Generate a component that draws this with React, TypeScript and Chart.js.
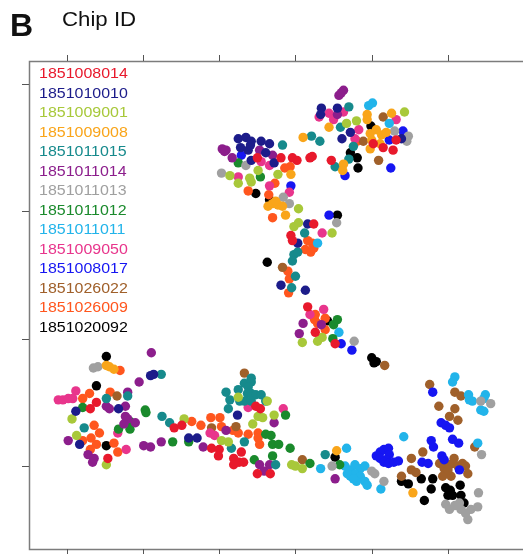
import React, { useEffect, useRef } from "react";
import { Chart, registerables } from "chart.js";

Chart.register(...registerables);

const chipIds = [
  "1851008014", "1851010010", "1851009001", "1851009008", "1851011015",
  "1851011014", "1851011013", "1851011012", "1851011011", "1851009050",
  "1851008017", "1851026022", "1851026009", "1851020092",
];
const chipColors = [
  "#e8192c", "#1c1c8a", "#a8c83a", "#f9a51a", "#168a8c",
  "#8c1e8c", "#a0a0a0", "#1a8a2c", "#22b4ea", "#e8358c",
  "#1616f2", "#a0602a", "#ff561e", "#000000",
];

const xTicks = [-20, -10, 0, 10, 20, 30];
const yTicks = [-10, 0, 10, 20];
const xMin = -24.94, xMax = 39.22;
const yMin = -16.51, yMax = 21.8;

type P = [number, number];

const s1851008014: P[] = [[20.2,15.3],[21.5,15.0],[22.8,14.8],[23.2,15.6],[14.7,14.0],[11.9,14.2],[12.2,14.3],[5.0,14.2],[8.1,14.2],[9.6,14.2],[10.2,14.0],[12.4,9.0],[9.4,8.1],[9.6,7.7],[11.6,2.5],[12.6,0.5],[15.2,-0.4],[-16.9,-5.5],[-16.1,-5.0],[-14.6,-9.4],[-5.9,-7.0],[-4.9,-6.8],[-1.0,-8.6],[0.0,-8.7],[-0.1,-9.2],[1.9,-9.4],[2.6,-9.7],[3.2,-9.7],[1.9,-9.9],[2.9,-8.9],[4.8,-5.3],[5.4,-5.5],[5.0,-10.6],[6.7,-10.6]];
const s1851010010: P[] = [[13.4,18.1],[13.3,17.6],[15.5,18.1],[17.2,16.2],[16.1,15.7],[23.9,15.7],[2.5,15.7],[3.5,15.8],[4.2,15.5],[5.5,15.5],[6.6,15.3],[2.8,15.0],[3.8,14.8],[4.1,15.2],[6.1,14.6],[7.2,13.8],[4.2,14.0],[11.6,9.0],[10.3,7.5],[8.1,4.2],[11.3,3.8],[-9.0,-2.9],[-8.6,-2.8],[-18.8,-5.7],[-13.2,-5.5],[-18.3,-8.3],[-4.0,-7.8],[-2.9,-7.8],[2.4,-6.0]];
const s1851009001: P[] = [[24.3,17.8],[16.7,16.9],[18.0,17.1],[1.4,12.8],[2.5,12.2],[4.0,12.6],[4.2,12.3],[5.1,13.2],[7.7,12.9],[10.4,10.2],[9.8,8.8],[10.4,9.1],[14.8,8.3],[13.5,0.1],[12.9,-0.2],[10.9,-0.3],[-19.3,-6.3],[-18.7,-7.6],[-14.8,-9.9],[-4.6,-6.3],[0.3,-8.0],[1.2,-8.1],[2.5,-4.6],[5.1,-6.1],[5.7,-6.2],[4.4,-6.7],[6.3,-4.9],[7.2,-6.0],[9.5,-9.9],[10.0,-10.0],[10.9,-10.2]];
const s1851009008: P[] = [[19.4,17.6],[19.4,17.2],[22.6,17.7],[14.4,16.6],[19.8,16.1],[20.6,16.4],[21.3,16.0],[21.9,16.2],[20.0,15.6],[21.1,15.3],[19.8,14.9],[16.3,13.7],[16.2,13.2],[11.0,15.8],[9.4,12.9],[7.0,10.6],[7.7,10.5],[6.4,10.4],[7.4,10.8],[8.3,10.4],[8.7,9.7],[-14.8,-2.1],[-14.4,-2.2],[-13.8,-2.4],[15.4,-8.8],[25.4,-12.1]];
const s1851011015: P[] = [[17.0,18.2],[15.9,16.6],[17.6,15.1],[17.0,14.1],[15.2,13.5],[12.1,15.9],[13.2,15.5],[8.3,15.2],[11.2,8.3],[9.8,6.6],[10.3,6.8],[9.6,6.1],[10.0,4.9],[9.5,4.0],[4.2,-3.1],[-7.6,-2.8],[-14.8,-4.7],[-12.0,-4.5],[-17.7,-7.0],[-7.5,-6.1],[-6.5,-6.6],[1.6,-8.6],[3.3,-8.1],[7.4,-9.9],[0.9,-4.2],[1.4,-4.8],[1.2,-5.5],[2.5,-4.0],[3.3,-3.5],[4.2,-3.4],[3.8,-3.8],[2.7,-4.9],[3.7,-4.3],[4.2,-4.3],[4.8,-4.4],[5.5,-4.4],[3.3,-4.9],[4.2,-4.9],[6.1,-4.9],[13.9,-9.1]];
const s1851011014: P[] = [[15.7,19.1],[16.3,19.5],[16.0,19.3],[15.5,17.6],[0.4,14.9],[0.9,14.8],[0.7,14.7],[1.7,14.2],[5.3,14.8],[7.0,14.4],[11.0,1.2],[13.4,1.1],[10.5,0.4],[-8.9,-1.1],[-10.5,-3.4],[-12.0,-4.2],[-14.8,-5.3],[-14.4,-5.5],[-12.3,-5.3],[-12.3,-6.1],[-12.0,-6.3],[-11.0,-6.6],[-12.5,-6.7],[-19.8,-8.0],[-17.2,-9.1],[-16.6,-9.7],[-16.4,-9.4],[-9.9,-8.4],[-9.0,-8.5],[-7.6,-8.1],[-2.1,-8.5],[0.9,-7.2],[7.2,-6.6],[5.3,-9.9],[5.9,-10.4],[6.6,-9.9],[15.2,-11.0]];
const s1851011013: P[] = [[23.0,16.3],[24.8,15.9],[24.6,15.5],[3.5,13.6],[0.3,13.0],[8.4,11.1],[9.2,10.6],[15.4,9.1],[17.7,-0.2],[-16.5,-2.3],[-15.9,-2.2],[35.6,-5.1],[34.3,-4.9],[34.4,-9.1],[14.8,-10.0],[20.0,-10.4],[20.4,-10.6],[21.6,-11.2],[29.7,-13.0],[30.2,-13.4],[30.9,-13.1],[31.5,-12.9],[31.7,-13.4],[32.3,-13.7],[33.0,-13.4],[32.6,-14.2],[34.0,-12.1],[33.9,-13.2]];
const s1851011012: P[] = [[2.5,13.8],[5.4,12.7],[15.5,1.5],[15.0,1.1],[14.9,0.0],[-17.9,-5.4],[-9.7,-5.6],[-9.6,-5.8],[-11.7,-6.5],[-11.7,-7.1],[-13.2,-7.1],[-6.1,-8.1],[-4.0,-8.1],[6.1,-7.5],[6.8,-7.6],[7.0,-8.3],[7.8,-8.3],[8.7,-6.0],[7.0,-9.2],[4.6,-9.5],[9.3,-8.6],[11.9,-9.8],[15.8,-9.9]];
const s1851011011: P[] = [[19.6,18.3],[20.1,18.5],[22.3,16.9],[12.9,7.5],[15.7,0.5],[30.9,-3.0],[30.6,-3.4],[32.7,-4.4],[32.8,-4.8],[33.2,-4.9],[34.9,-4.4],[34.7,-4.7],[34.3,-5.6],[34.7,-5.7],[24.2,-7.7],[33.9,-8.2],[16.7,-8.6],[13.3,-10.2],[16.5,-10.0],[17.2,-10.3],[17.8,-9.9],[18.5,-10.2],[19.1,-10.0],[17.2,-10.8],[17.8,-10.6],[18.5,-10.8],[19.1,-11.2],[19.4,-11.5],[18.0,-11.2],[16.8,-10.6],[17.6,-11.0],[21.2,-11.8]];
const s1851009050: P[] = [[14.4,17.7],[13.1,17.4],[15.0,17.2],[16.3,17.8],[23.2,17.2],[18.3,16.4],[17.8,15.7],[5.5,13.9],[6.6,13.6],[2.5,12.7],[6.6,12.0],[9.2,11.5],[13.5,8.3],[11.9,1.9],[13.7,2.3],[-18.8,-4.1],[-21.1,-4.8],[-20.5,-4.8],[-19.8,-4.7],[-19.2,-4.7],[-13.3,-7.4],[-12.2,-8.7],[3.8,-5.4],[-1.2,-7.4],[-0.6,-7.6],[8.4,-5.5]];
const s1851008017: P[] = [[24.1,16.3],[22.3,15.6],[16.5,12.8],[22.5,13.4],[2.9,14.4],[9.4,12.0],[14.4,9.7],[16.0,-0.4],[17.4,-0.9],[28.0,-4.2],[29.1,-6.6],[29.7,-6.8],[30.2,-7.0],[27.8,-8.0],[28.1,-8.5],[30.6,-7.9],[31.4,-8.2],[20.6,-9.2],[21.1,-8.9],[21.6,-8.7],[22.2,-8.6],[22.3,-9.1],[21.9,-9.5],[21.1,-9.4],[21.6,-9.7],[22.2,-9.8],[22.9,-9.7],[23.5,-9.6],[26.6,-9.7],[27.4,-9.8],[29.2,-9.2],[29.5,-9.5],[31.5,-10.3]];
const s1851026022: P[] = [[21.5,17.4],[18.9,15.5],[20.9,14.0],[8.3,5.6],[21.7,-2.1],[3.3,-2.7],[-13.4,-4.5],[-1.0,-7.0],[2.2,-6.9],[10.9,-9.5],[27.6,-3.6],[30.9,-4.2],[31.7,-4.5],[28.8,-5.3],[30.9,-5.5],[30.2,-6.1],[31.3,-6.4],[26.7,-8.9],[25.2,-9.4],[25.2,-10.3],[25.8,-10.5],[23.9,-10.8],[28.9,-9.8],[29.5,-10.2],[30.2,-9.9],[30.6,-9.8],[30.8,-9.4],[31.3,-10.0],[31.9,-9.8],[32.3,-10.0],[32.6,-10.6],[29.7,-10.6],[30.4,-10.8],[29.3,-10.8],[30.0,-10.3],[33.5,-8.5]];
const s1851026009: P[] = [[18.1,15.5],[8.6,13.4],[9.3,13.5],[7.3,12.2],[3.8,11.6],[6.5,11.3],[7.0,9.5],[11.6,7.7],[12.2,7.5],[11.3,7.0],[12.0,6.8],[12.4,7.1],[9.0,5.3],[9.2,4.7],[9.1,3.6],[12.6,1.9],[12.5,1.5],[13.9,1.6],[12.9,1.2],[13.9,0.7],[-13.0,-2.5],[-17.9,-4.7],[-17.0,-4.3],[-14.3,-4.2],[-16.4,-6.8],[-15.7,-7.4],[-16.8,-7.8],[-17.9,-8.0],[-16.1,-8.3],[-16.9,-8.7],[-13.8,-8.2],[-13.3,-8.9],[-3.6,-6.5],[-2.4,-6.8],[-1.1,-6.2],[0.1,-6.2],[0.3,-6.9],[1.8,-7.2],[2.5,-7.4],[3.8,-7.5],[5.1,-7.4],[5.1,-7.8],[5.3,-8.3]];
const s1851020092: P[] = [[19.9,16.7],[17.2,14.6],[18.1,14.2],[18.2,13.4],[15.5,9.7],[4.8,11.4],[6.6,10.9],[6.3,6.0],[14.2,1.4],[20.0,-1.5],[20.3,-1.9],[20.6,-1.8],[-14.8,-1.4],[-16.1,-3.7],[-14.8,-8.4],[15.2,-9.3],[23.9,-11.2],[24.8,-11.4],[26.5,-11.0],[28.0,-11.0],[27.8,-11.8],[26.9,-12.7],[29.7,-11.7],[30.3,-11.9],[30.0,-12.3],[30.6,-12.3],[31.6,-11.5],[31.7,-12.3],[32.1,-12.9]];

const seriesPoints: P[][] = [
  s1851008014, s1851010010, s1851009001, s1851009008, s1851011015,
  s1851011014, s1851011013, s1851011012, s1851011011, s1851009050,
  s1851008017, s1851026022, s1851026009, s1851020092,
];

const framePlugin = {
  id: "frameAndLegend",
  afterDatasetsDraw(chart: any) {
    const { ctx, chartArea: a, scales } = chart;
    const w = chart.width;
    ctx.save();
    ctx.strokeStyle = "#7c7c7c";
    ctx.lineWidth = 1.5;
    ctx.beginPath();
    ctx.moveTo(w + 5, a.top + 0.5);
    ctx.lineTo(a.left + 0.5, a.top + 0.5);
    ctx.lineTo(a.left + 0.5, a.bottom + 0.5);
    ctx.lineTo(w + 5, a.bottom + 0.5);
    ctx.stroke();

    ctx.strokeStyle = "#555555";
    ctx.lineWidth = 1;
    ctx.beginPath();
    for (const v of xTicks) {
      const px = Math.round(scales.x.getPixelForValue(v)) + 0.5;
      ctx.moveTo(px, a.top - 6);
      ctx.lineTo(px, a.top);
      ctx.moveTo(px, a.bottom);
      ctx.lineTo(px, a.bottom + 5);
    }
    for (const v of yTicks) {
      const py = Math.round(scales.y.getPixelForValue(v)) + 0.5;
      ctx.moveTo(a.left - 7, py);
      ctx.lineTo(a.left, py);
    }
    ctx.stroke();

    ctx.font = "14px 'Liberation Sans', Arial, Helvetica, sans-serif";
    ctx.textBaseline = "middle";
    ctx.textAlign = "left";
    chart.data.datasets.forEach((ds: any, i: number) => {
      ctx.save();
      ctx.translate(a.left + 10, a.top + 13.3 + i * 19.49);
      ctx.scale(1.14, 1);
      ctx.fillStyle = ds.backgroundColor;
      ctx.fillText(ds.label, 0, 0);
      ctx.restore();
    });
    ctx.restore();
  },
};

export default function App() {
  const canvasRef = useRef<HTMLCanvasElement | null>(null);

  useEffect(() => {
    if (!canvasRef.current) return;
    const chart = new Chart(canvasRef.current, {
      type: "scatter",
      data: {
        datasets: chipIds.map((id, i) => ({
          label: id,
          data: seriesPoints[i].map(([x, y]) => ({ x, y })),
          backgroundColor: chipColors[i],
          borderColor: chipColors[i],
          borderWidth: 0,
          pointRadius: 4.7,
          pointHoverRadius: 4.7,
        })),
      },
      options: {
        animation: false,
        responsive: true,
        maintainAspectRatio: false,
        events: [],
        layout: { padding: { left: 29, top: 61, right: 0, bottom: 5 } },
        scales: {
          x: { type: "linear", min: xMin, max: xMax, display: false },
          y: { type: "linear", min: yMin, max: yMax, display: false },
        },
        plugins: {
          legend: { display: false },
          tooltip: { enabled: false },
          title: { display: false },
        },
      },
      plugins: [framePlugin],
    });
    return () => chart.destroy();
  }, []);

  return (
    <div
      style={{
        position: "absolute",
        left: 0,
        top: 0,
        width: 523,
        height: 554,
        background: "#ffffff",
        overflow: "hidden",
        fontFamily: "'Liberation Sans', Arial, Helvetica, sans-serif",
      }}
    >
      <canvas ref={canvasRef} style={{ position: "absolute", left: 0, top: 0 }} />
      <div
        style={{
          position: "absolute",
          left: 10,
          top: 9,
          fontSize: 32,
          lineHeight: 1,
          fontWeight: 700,
          color: "#111",
        }}
      >
        B
      </div>
      <div
        style={{
          position: "absolute",
          left: 62,
          top: 9.5,
          fontSize: 19.5,
          lineHeight: 1,
          color: "#111",
          transform: "scaleX(1.14)",
          transformOrigin: "left top",
          whiteSpace: "nowrap",
        }}
      >
        Chip ID
      </div>
    </div>
  );
}
